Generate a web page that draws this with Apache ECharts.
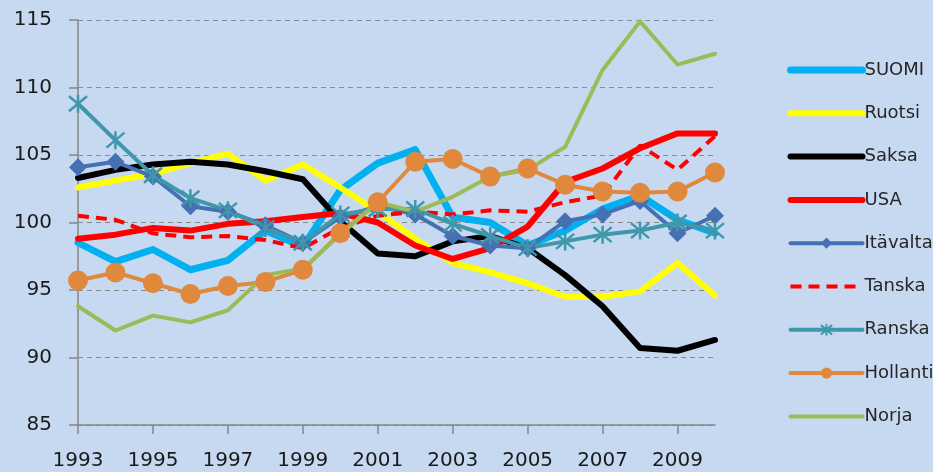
<!DOCTYPE html>
<html>
<head>
<meta charset="utf-8">
<script src="https://cdn.jsdelivr.net/npm/echarts@6/dist/echarts.min.js"></script>
<style>
html,body{margin:0;padding:0;background:#c6d9f0;}
#chart{width:933px;height:472px;}
</style>
</head>
<body>
<div id="chart"></div>
<script>
const years = ['1993','1994','1995','1996','1997','1998','1999','2000','2001','2002','2003','2004','2005','2006','2007','2008','2009','2010'];
const suomi    = [98.5, 97.1, 98.0, 96.5, 97.2, 99.4, 98.2, 102.4, 104.4, 105.4, 100.4, 100.0, 98.3, 99.4, 101.0, 102.0, 100.2, 99.2];
const ruotsi   = [102.6, 103.1, 103.6, 104.4, 105.1, 103.1, 104.3, 102.6, 100.8, 98.8, 97.0, 96.3, 95.5, 94.5, 94.5, 94.9, 97.0, 94.6];
const saksa    = [103.3, 103.9, 104.3, 104.5, 104.3, 103.8, 103.2, 100.1, 97.7, 97.5, 98.6, 99.0, 98.1, 96.1, 93.8, 90.7, 90.5, 91.3];
const usa      = [98.8, 99.1, 99.6, 99.4, 99.9, 100.1, 100.4, 100.7, 100.0, 98.3, 97.3, 98.1, 99.7, 103.0, 104.0, 105.5, 106.6, 106.6];
const itavalta = [104.1, 104.5, 103.4, 101.2, 100.8, 99.8, 98.5, 100.4, 101.2, 100.6, 99.0, 98.3, 98.1, 100.1, 100.6, 101.6, 99.2, 100.5];
const tanska   = [100.5, 100.2, 99.2, 98.9, 99.0, 98.7, 98.1, 99.6, 100.5, 100.8, 100.6, 100.9, 100.8, 101.5, 102.0, 105.7, 103.9, 106.4];
const ranska   = [108.8, 106.1, 103.5, 101.8, 100.9, 99.6, 98.5, 100.6, 101.0, 101.0, 99.9, 99.0, 98.1, 98.6, 99.1, 99.4, 100.0, 99.4];
const hollanti = [95.7, 96.3, 95.5, 94.7, 95.3, 95.6, 96.5, 99.2, 101.5, 104.5, 104.7, 103.4, 104.0, 102.8, 102.3, 102.2, 102.3, 103.7];
const norja    = [93.8, 92.0, 93.1, 92.6, 93.5, 96.1, 96.6, 99.1, 101.5, 100.8, 101.9, 103.4, 103.9, 105.6, 111.3, 114.9, 111.7, 112.5];
const yTicks = [85, 90, 95, 100, 105, 110, 115];
const names = ['SUOMI','Ruotsi','Saksa','USA','Itävalta','Tanska','Ranska','Hollanti','Norja'];

const FONT = 'DejaVu Sans';
const starPath = 'path://M0,0L10,10M10,0L0,10M5,-1L5,11';
const hidden = { color: 'rgba(0,0,0,0)', borderColor: 'rgba(0,0,0,0)', borderWidth: 0, opacity: 0 };

function mk(name, data, color, width, extra) {
  return Object.assign({
    name: name, type: 'line', data: data,
    symbol: 'none', smooth: false,
    lineStyle: { color: color, width: width, cap: 'round', join: 'round' },
    itemStyle: { color: color },
    emphasis: { disabled: true }
  }, extra || {});
}

const markerSeries = { 'Itävalta': 1, 'Ranska': 1, 'Hollanti': 1 };
const legendData = names.map(n => markerSeries[n] ? { name: n } : { name: n, itemStyle: hidden });

const chart = echarts.init(document.getElementById('chart'), null, { renderer: 'canvas' });
chart.setOption({
  animation: false,
  backgroundColor: '#c6d9f0',
  grid: { left: 78, right: 218, top: 20, bottom: 47, containLabel: false, outerBoundsMode: 'none' },
  legend: {
    orient: 'vertical',
    left: 782, top: 56,
    itemWidth: 72, itemHeight: 14, itemGap: 25.3,
    lineStyle: { width: 'inherit' },
    textStyle: { fontFamily: FONT, fontSize: 18, color: '#262626', padding: [0,0,0,-3] },
    data: legendData
  },
  xAxis: {
    type: 'category', data: years, boundaryGap: false,
    axisLine: { lineStyle: { color: '#868686', width: 1.5 } },
    axisTick: { show: true, interval: 1, length: 9, lineStyle: { color: '#868686', width: 1.5 } },
    axisLabel: { interval: 1, fontFamily: FONT, fontSize: 20, color: '#1a1a1a', margin: 26 },
    splitLine: { show: false }
  },
  yAxis: {
    type: 'value', min: yTicks[0], max: yTicks[yTicks.length-1], interval: 5,
    axisLine: { show: true, lineStyle: { color: '#868686', width: 1.5 } },
    axisTick: { show: true, length: 9, lineStyle: { color: '#868686', width: 1.5 } },
    axisLabel: { fontFamily: FONT, fontSize: 20, color: '#1a1a1a', margin: 26 },
    splitLine: { show: true, lineStyle: { color: '#8a8a8a', width: 1.2, type: [5, 4] } }
  },
  series: [
    mk('SUOMI', suomi, '#00b0f0', 7),
    mk('Ruotsi', ruotsi, '#ffff00', 6),
    mk('Saksa', saksa, '#000000', 6),
    mk('USA', usa, '#ff0000', 6),
    mk('Itävalta', itavalta, '#4670b4', 4, { symbol: 'diamond', symbolSize: 18, showSymbol: true }),
    mk('Tanska', tanska, '#ff0000', 4, { lineStyle: { color: '#ff0000', width: 4, type: [11, 7] } }),
    mk('Ranska', ranska, '#3f97ab', 4, { symbol: starPath, symbolSize: 18, showSymbol: true,
        itemStyle: { color: 'rgba(0,0,0,0)', borderColor: '#3f97ab', borderWidth: 2.5 } }),
    mk('Hollanti', hollanti, '#e0883c', 4, { symbol: 'circle', symbolSize: 20, showSymbol: true }),
    mk('Norja', norja, '#9bbb59', 4)
  ]
});
</script>
</body>
</html>
